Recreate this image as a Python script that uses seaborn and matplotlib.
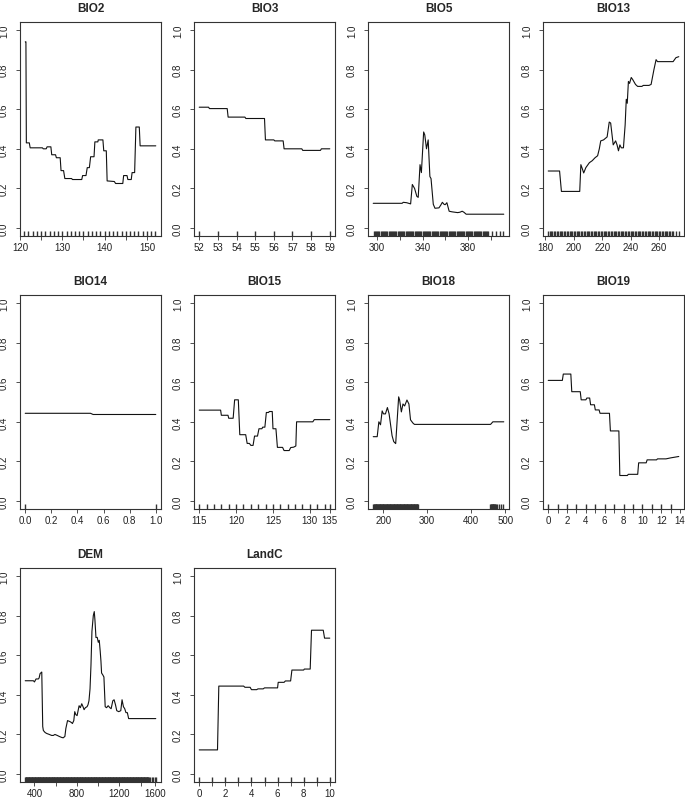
import numpy as np
import pandas as pd
import seaborn as sns
import matplotlib
matplotlib.use("Agg")
import matplotlib.pyplot as plt

# partial dependence curves
bio2_x = [121.25, 121.4, 121.5, 122.2, 122.4, 125.3, 125.5, 126.2, 126.4, 127.3, 127.5, 128.4, 128.6,
          129.5, 129.7, 130.3, 130.6, 132.2, 132.4, 134.6, 134.8, 135.6, 135.9, 136.4, 136.7, 137.5,
          137.7, 138.4, 138.5, 139.6, 139.8, 140.4, 140.6, 142.3, 142.6, 144.3, 144.5, 145.3, 145.5,
          146.3, 146.5, 147.1, 147.4, 148.2, 148.4, 152.1]
bio2_y = [0.94, 0.94, 0.43, 0.43, 0.405, 0.405, 0.40, 0.40, 0.41, 0.41, 0.37, 0.37, 0.355,
          0.355, 0.29, 0.29, 0.25, 0.25, 0.245, 0.245, 0.265, 0.265, 0.305, 0.305, 0.36, 0.36,
          0.435, 0.435, 0.445, 0.445, 0.39, 0.39, 0.238, 0.235, 0.225, 0.225, 0.265, 0.265, 0.245,
          0.245, 0.28, 0.28, 0.51, 0.51, 0.415, 0.415]
bio2_rug = list(range(121, 153))
bio2_ticks = [120, 125, 130, 135, 140, 145, 150]
bio2_labels = ["120", "", "130", "", "140", "", "150"]

bio3_x = [52.0, 52.5, 52.55, 53.5, 53.55, 54.45, 54.5, 55.5, 55.55, 56.0, 56.05, 56.5, 56.55,
          57.5, 57.55, 58.5, 58.55, 59.0]
bio3_y = [0.61, 0.61, 0.603, 0.603, 0.56, 0.56, 0.553, 0.553, 0.445, 0.445, 0.44, 0.44, 0.40,
          0.40, 0.392, 0.392, 0.40, 0.40]
bio3_rug = [52, 53, 54, 55, 56, 57, 58, 59]
bio3_ticks = [52, 53, 54, 55, 56, 57, 58, 59]
bio3_labels = ["52", "53", "54", "55", "56", "57", "58", "59"]

bio5_x = [296.5, 322, 323, 326, 329.5, 331, 333, 335, 336.2, 337.8, 339, 341, 342, 343.5, 345,
          346.5, 347.5, 349.5, 351, 354.5, 356, 357.5, 359, 360, 361.5, 363.5, 366, 371, 373, 375,
          376.5, 378.5, 411.7]
bio5_y = [0.125, 0.125, 0.13, 0.128, 0.122, 0.22, 0.20, 0.16, 0.155, 0.32, 0.28, 0.485, 0.47,
          0.40, 0.445, 0.26, 0.25, 0.12, 0.10, 0.102, 0.115, 0.13, 0.12, 0.118, 0.128, 0.085,
          0.082, 0.078, 0.08, 0.085, 0.08, 0.07, 0.07]
bio5_rug = list(range(297, 399)) + [401, 405, 408, 411]
bio5_ticks = [300, 320, 340, 360, 380, 400]
bio5_labels = ["300", "", "340", "", "380", ""]

bio13_x = [182, 190, 191.3, 204.2, 205, 206, 207, 208.5, 211, 213, 215, 216.8, 218, 219, 221,
           223.5, 225, 226, 227.8, 229.5, 230.5, 231.5, 232.5, 233.5, 235, 236.2, 237, 237.7,
           238.5, 239.3, 240.5, 241.5, 243.5, 245, 248, 249, 253, 254.5, 256.5, 258, 259, 270,
           272, 274]
bio13_y = [0.288, 0.288, 0.185, 0.185, 0.32, 0.30, 0.278, 0.305, 0.33, 0.34, 0.355, 0.365, 0.40,
           0.44, 0.445, 0.46, 0.535, 0.53, 0.42, 0.44, 0.42, 0.39, 0.42, 0.405, 0.405, 0.52, 0.65,
           0.63, 0.74, 0.73, 0.76, 0.75, 0.725, 0.715, 0.715, 0.72, 0.72, 0.725, 0.80, 0.85, 0.84,
           0.84, 0.86, 0.865]
bio13_rug = list(range(182, 271)) + [272, 274]
bio13_ticks = [180, 200, 220, 240, 260]
bio13_labels = ["180", "200", "220", "240", "260"]

bio14_x = [0.0, 0.5, 0.52, 1.0]
bio14_y = [0.443, 0.443, 0.437, 0.437]
bio14_rug = [0, 1]
bio14_ticks = [0.0, 0.2, 0.4, 0.6, 0.8, 1.0]
bio14_labels = ["0.0", "0.2", "0.4", "0.6", "0.8", "1.0"]

bio15_x = [115, 117.9, 118.0, 118.9, 119.0, 119.6, 119.8, 120.3, 120.5, 121.3, 121.5, 121.8,
           122.0, 122.3, 122.5, 122.9, 123.1, 123.5, 123.6, 123.9, 124.1, 124.4, 124.5, 124.9,
           125.0, 125.4, 125.6, 126.3, 126.5, 127.2, 127.4, 127.8, 128.1, 128.2, 130.4, 130.6,
           132.7]
bio15_y = [0.459, 0.459, 0.433, 0.433, 0.418, 0.418, 0.511, 0.511, 0.335, 0.335, 0.291, 0.291,
           0.281, 0.281, 0.328, 0.328, 0.365, 0.365, 0.373, 0.373, 0.447, 0.447, 0.452, 0.452,
           0.365, 0.365, 0.271, 0.271, 0.255, 0.255, 0.27, 0.272, 0.278, 0.40, 0.40, 0.411,
           0.411]
bio15_rug = list(range(115, 133)) + [132.7]
bio15_ticks = [115, 120, 125, 130, 132.7]
bio15_labels = ["115", "120", "125", "130", "135"]

bio18_x = [176.5, 185.6, 189.4, 193.2, 197, 200, 204.5, 209, 212.9, 219.7, 223.5, 228, 234.8,
           237, 241, 244.7, 248.5, 253.8, 258.3, 262, 267.4, 271, 445.5, 450.8, 475.8]
bio18_y = [0.325, 0.325, 0.40, 0.385, 0.455, 0.44, 0.44, 0.472, 0.44, 0.33, 0.30, 0.29, 0.526,
           0.51, 0.45, 0.49, 0.48, 0.51, 0.49, 0.41, 0.394, 0.387, 0.387, 0.40, 0.40]
bio18_rug = list(range(177, 280)) + list(range(445, 458)) + [460, 465, 470, 475]
bio18_ticks = [200, 300, 400, 479]
bio18_labels = ["200", "300", "400", "500"]

bio19_x = [0, 1.5, 1.6, 2.4, 2.5, 3.4, 3.5, 4.0, 4.1, 4.4, 4.5, 4.9, 5.0, 5.4, 5.5, 6.5, 6.6,
           7.5, 7.6, 8.4, 8.5, 9.5, 9.6, 10.4, 10.5, 11.5, 11.6, 12.5, 13.0, 13.86]
bio19_y = [0.609, 0.609, 0.641, 0.641, 0.552, 0.552, 0.511, 0.511, 0.52, 0.52, 0.486, 0.486,
           0.46, 0.46, 0.443, 0.443, 0.354, 0.354, 0.129, 0.129, 0.135, 0.135, 0.193, 0.193,
           0.208, 0.208, 0.213, 0.213, 0.218, 0.225]
bio19_rug = list(range(0, 14))
bio19_ticks = [0, 1, 2, 3, 4, 5, 6, 7, 8, 9, 10, 11, 12, 13, 14]
bio19_labels = ["0", "", "2", "", "4", "", "6", "", "8", "", "10", "", "12", "", "14"]

dem_x = [313, 390, 400, 415, 437, 444, 453, 469, 478, 484, 500, 515, 540, 562, 578, 593, 615,
         634, 656, 671, 687, 696, 712, 734, 749, 758, 771, 780, 790, 802, 821, 833, 846, 858,
         868, 880, 896, 905, 914, 924, 933, 942, 955, 964, 970, 980, 992, 1002, 1011, 1020,
         1027, 1033, 1045, 1055, 1067, 1080, 1095, 1111, 1123, 1139, 1151, 1164, 1176, 1195,
         1214, 1226, 1239, 1251, 1263, 1276, 1288, 1544]
dem_y = [0.471, 0.471, 0.465, 0.48, 0.48, 0.485, 0.507, 0.515, 0.24, 0.22, 0.21, 0.205, 0.20,
         0.195, 0.195, 0.20, 0.195, 0.19, 0.185, 0.183, 0.19, 0.23, 0.27, 0.265, 0.26, 0.255,
         0.27, 0.315, 0.30, 0.295, 0.345, 0.335, 0.355, 0.34, 0.325, 0.335, 0.34, 0.35, 0.37,
         0.43, 0.55, 0.72, 0.80, 0.82, 0.78, 0.689, 0.69, 0.665, 0.675, 0.62, 0.57, 0.51, 0.50,
         0.49, 0.34, 0.335, 0.345, 0.335, 0.33, 0.37, 0.375, 0.35, 0.32, 0.315, 0.32, 0.375,
         0.34, 0.33, 0.31, 0.31, 0.28, 0.28]
dem_rug = list(range(313, 1480, 4)) + [1490, 1505, 1520, 1535, 1544]
dem_ticks = [400, 600, 800, 1000, 1200, 1400, 1540]
dem_labels = ["400", "", "800", "", "1200", "", "1600"]

landc_x = [0, 1.4, 1.5, 3.4, 3.5, 3.9, 4.0, 4.4, 4.5, 4.9, 5.0, 6.0, 6.05, 6.5, 6.6, 7.0, 7.1,
           8.0, 8.05, 8.5, 8.6, 9.5, 9.6, 10.0]
landc_y = [0.122, 0.122, 0.444, 0.444, 0.438, 0.438, 0.426, 0.426, 0.43, 0.43, 0.435, 0.435,
           0.463, 0.463, 0.47, 0.47, 0.525, 0.525, 0.53, 0.53, 0.726, 0.726, 0.686, 0.686]
landc_rug = [0, 1, 2, 3, 4, 5, 6, 7, 8, 9, 10]
landc_ticks = [0, 1, 2, 3, 4, 5, 6, 7, 8, 9, 10]
landc_labels = ["0", "", "2", "", "4", "", "6", "", "8", "", "10"]

y_ticks = [0.0, 0.2, 0.4, 0.6, 0.8, 1.0]
y_labels = ["0.0", "0.2", "0.4", "0.6", "0.8", "1.0"]

panels = [
    ("BIO2", bio2_x, bio2_y, bio2_rug, bio2_ticks, bio2_labels),
    ("BIO3", bio3_x, bio3_y, bio3_rug, bio3_ticks, bio3_labels),
    ("BIO5", bio5_x, bio5_y, bio5_rug, bio5_ticks, bio5_labels),
    ("BIO13", bio13_x, bio13_y, bio13_rug, bio13_ticks, bio13_labels),
    ("BIO14", bio14_x, bio14_y, bio14_rug, bio14_ticks, bio14_labels),
    ("BIO15", bio15_x, bio15_y, bio15_rug, bio15_ticks, bio15_labels),
    ("BIO18", bio18_x, bio18_y, bio18_rug, bio18_ticks, bio18_labels),
    ("BIO19", bio19_x, bio19_y, bio19_rug, bio19_ticks, bio19_labels),
    ("DEM", dem_x, dem_y, dem_rug, dem_ticks, dem_labels),
    ("LandC", landc_x, landc_y, landc_rug, landc_ticks, landc_labels),
]

sns.set_style("white")
plt.rcParams["font.family"] = ["Liberation Sans", "DejaVu Sans"]

W, H = 685, 803
fig = plt.figure(figsize=(W / 100, H / 100), dpi=100)

col_left = [20, 194, 368, 543]
row_top = [23, 296, 569]
box_w, box_h = 141, 214

for i, (name, xs, ys, rug, ticks, labels) in enumerate(panels):
    r, c = divmod(i, 4)
    ax = fig.add_axes([col_left[c] / W, 1 - (row_top[r] + box_h) / H, box_w / W, box_h / H])

    df = pd.DataFrame({"x": xs, "y": ys})
    sns.lineplot(data=df, x="x", y="y", ax=ax, color="#111111", lw=0.8,
                 estimator=None, sort=False)
    # observation rug along the bottom of the panel
    sns.rugplot(x=rug, ax=ax, height=0.022, color="#333333", lw=0.35, expand_margins=False)

    lo, hi = min(xs), max(xs)
    pad = (hi - lo) * 0.04
    ax.set_xlim(lo - pad, hi + pad)
    ax.set_ylim(-0.04, 1.04)

    ax.set_xticks(ticks)
    ax.set_xticklabels(labels)
    ax.set_yticks(y_ticks)
    ax.set_yticklabels(y_labels, rotation=90, va="center")
    ax.tick_params(axis="x", direction="out", length=3, width=0.6, pad=1.5,
                   labelsize=7, color="#333333", labelcolor="#222222", bottom=True)
    ax.tick_params(axis="y", direction="out", length=3, width=0.6, pad=5,
                   labelsize=7, color="#333333", labelcolor="#222222", left=True)
    ax.set_xlabel("")
    ax.set_ylabel("")
    for s in ax.spines.values():
        s.set_visible(True)
        s.set_color("#333333")
        s.set_linewidth(0.8)
    ax.set_title(name, fontsize=8.5, fontweight="bold", pad=8)

fig.savefig("out.png", dpi=100)
